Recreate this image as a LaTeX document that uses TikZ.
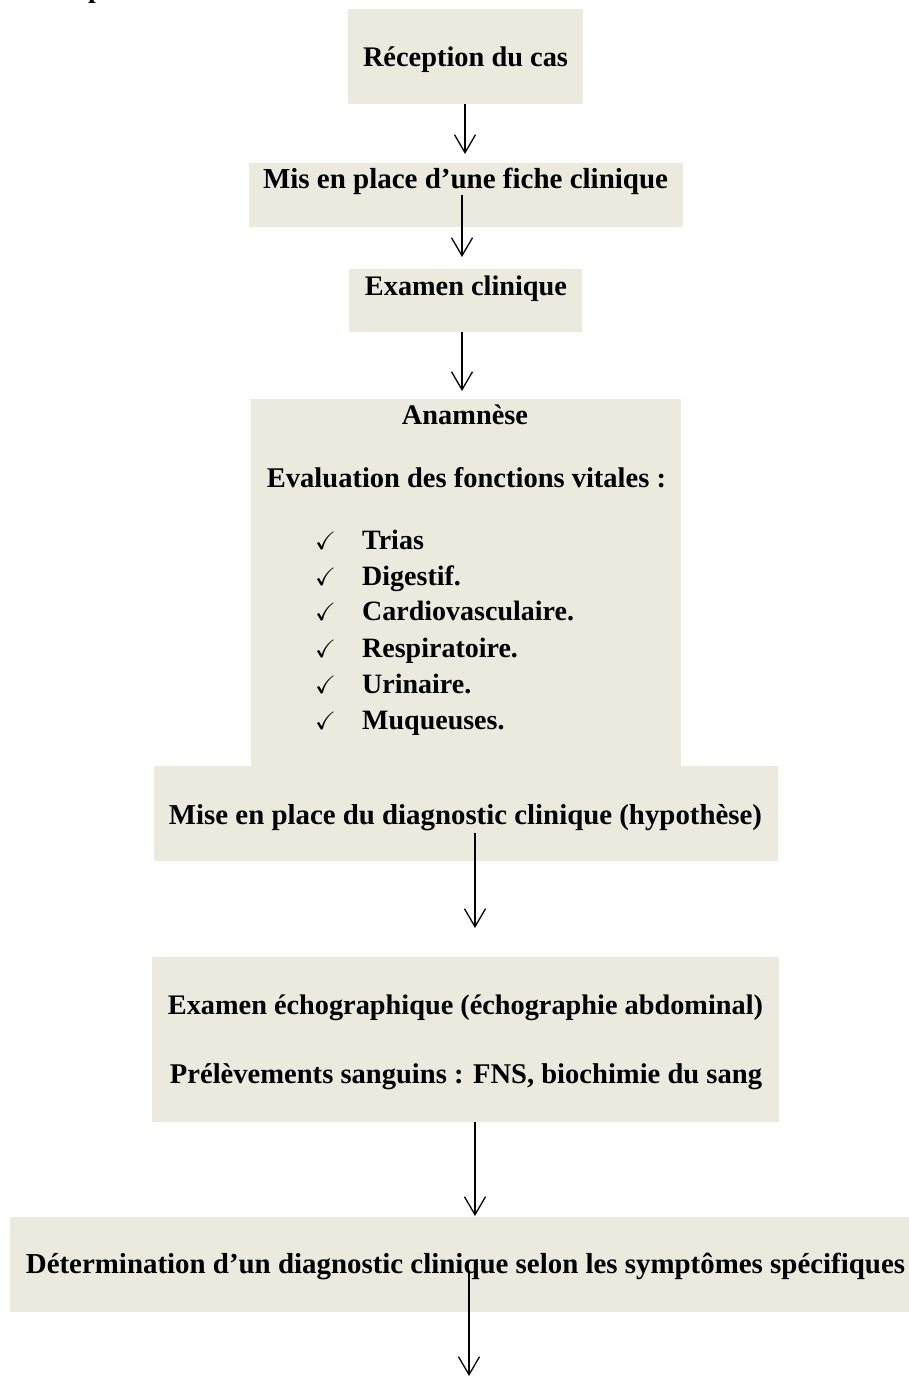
\documentclass[tikz,border=0pt]{standalone}
\usepackage{fontspec}
\usepackage{amssymb}
\setmainfont{Liberation Serif}
\usetikzlibrary{arrows.meta}
\definecolor{boxbg}{HTML}{ECE9DF}
\newcommand{\fitto}[2]{\resizebox{#1pt}{!}{\bfseries #2}}
\tikzset{
  x=1pt, y=-1pt,
  boxbg/.style={fill=boxbg, draw=none, inner sep=0pt, anchor=north west},
  txt/.style={anchor=base, inner sep=0pt, font=\bfseries},
  itm/.style={anchor=base west, inner sep=0pt, font=\fontsize{28}{28}\selectfont\bfseries},
  chk/.style={anchor=base west, inner sep=0pt, font=\fontsize{25}{25}\selectfont\boldmath},
  arr/.style={line width=1.3pt, -{Straight Barb[length=18pt,width=21pt,line width=1.3pt]}}
}
\begin{document}
\begin{tikzpicture}
\useasboundingbox (0,0) rectangle (909,1376);
\clip (0,0) rectangle (909,1376);
\fill[white] (0,0) rectangle (909,1376);
% cut-off heading fragment
\node[anchor=base west, inner sep=0pt, font=\fontsize{28}{28}\selectfont\bfseries] (head) at (88,-3) {p};
% boxes
\node[boxbg, minimum width=235, minimum height=95] (b1) at (348,9) {};
\node[boxbg, minimum width=434, minimum height=64] (b2) at (249,163) {};
\node[boxbg, minimum width=233, minimum height=63] (b3) at (349,269) {};
\node[boxbg, minimum width=430, minimum height=368] (b4) at (251,399) {};
\node[boxbg, minimum width=624, minimum height=95] (b5) at (154,766) {};
\node[boxbg, minimum width=627, minimum height=165] (b6) at (152,957) {};
\node[boxbg, minimum width=910, minimum height=95] (b7) at (10,1217) {};
% texts
\node[txt] (t1) at (465.5,66) {\fitto{205}{Réception du cas}};
\node[txt] (t2) at (465.5,188) {\fitto{405}{Mis en place d’une fiche clinique}};
\node[txt] (t3) at (466,295) {\fitto{202}{Examen clinique}};
\node[txt] (t4) at (465,424) {\fitto{126}{Anamnèse}};
\node[txt] (t5) at (466.5,487) {\fitto{399}{Evaluation des fonctions vitales :}};
\node[chk] (c1) at (315,549) {$\checkmark$};
\node[chk] (c2) at (315,585) {$\checkmark$};
\node[chk] (c3) at (315,620) {$\checkmark$};
\node[chk] (c4) at (315,657) {$\checkmark$};
\node[chk] (c5) at (315,693) {$\checkmark$};
\node[chk] (c6) at (315,729) {$\checkmark$};
\node[itm] (i1) at (362,549) {Trias};
\node[itm] (i2) at (362,585) {Digestif.};
\node[itm] (i3) at (362,620) {Cardiovasculaire.};
\node[itm] (i4) at (362,657) {Respiratoire.};
\node[itm] (i5) at (362,693) {Urinaire.};
\node[itm] (i6) at (362,729) {Muqueuses.};
\node[txt] (t6) at (465.5,824) {\fitto{593}{Mise en place du diagnostic clinique (hypothèse)}};
\node[txt] (t7) at (465.5,1014) {\fitto{595}{Examen échographique (échographie abdominal)}};
\node[txt] (t8) at (466,1083) {\fitto{592}{Prélèvements sanguins : FNS, biochimie du sang}};
\node[txt] (t9) at (465.5,1273) {\fitto{879}{Détermination d’un diagnostic clinique selon les symptômes spécifiques}};
% arrow end points
\coordinate (a1s) at (465,104);  \coordinate (a1e) at (465,154);
\coordinate (a2s) at (462,195);  \coordinate (a2e) at (462,257);
\coordinate (a3s) at (462,332);  \coordinate (a3e) at (462,391);
\coordinate (a4s) at (475,833);  \coordinate (a4e) at (475,928);
\coordinate (a5s) at (475,1122); \coordinate (a5e) at (475,1216);
\coordinate (a6s) at (469,1273); \coordinate (a6e) at (469,1376);
\draw[arr] (a1s) -- (a1e);
\draw[arr] (a2s) -- (a2e);
\draw[arr] (a3s) -- (a3e);
\draw[arr] (a4s) -- (a4e);
\draw[arr] (a5s) -- (a5e);
\draw[arr] (a6s) -- (a6e);
\end{tikzpicture}
\end{document}
